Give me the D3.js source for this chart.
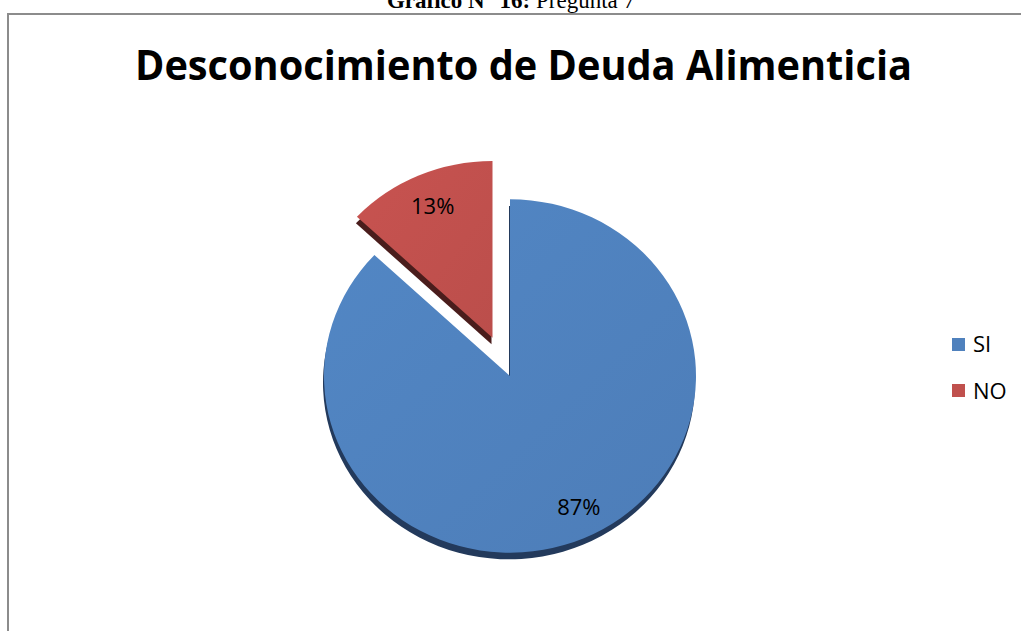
<!DOCTYPE html>
<html lang="es">
<head>
<meta charset="UTF-8">
<title>Desconocimiento de Deuda Alimenticia</title>
<script src="https://cdn.jsdelivr.net/npm/d3@7/dist/d3.min.js"></script>
<style>
  * { padding: 0; margin: 0; }
  body { background: #fff; overflow: hidden; }
</style>
</head>
<body>
<div id="grafico"></div>
<script>
// datos
var categorias = ["SI", "NO"];
var valores = [87, 13];
var colores = ["#4F81BD", "#C0504D"];
var coloresBorde = ["#233a5c", "#4a1d1c"];
var titulo = "Desconocimiento de Deuda Alimenticia";

var w = 1021, h = 631;
var cx = 510, cy = 376;
var radio = 186;
var achata = 0.95;
var explota = 44;

var svg = d3.select("#grafico").append("svg")
    .attr("width", w)
    .attr("height", h);

// gradientes suaves
var defs = svg.append("defs");
colores.forEach(function(c, i) {
    var g = defs.append("linearGradient")
        .attr("id", "grad" + i)
        .attr("x1", "0%").attr("y1", "0%")
        .attr("x2", "100%").attr("y2", "100%");
    g.append("stop").attr("offset", "0%").attr("stop-color", d3.color(c).brighter(0.12));
    g.append("stop").attr("offset", "100%").attr("stop-color", d3.color(c).darker(0.08));
});

// leyenda de arriba (cortada)
var cap = svg.append("text")
    .attr("x", 511)
    .attr("y", 8)
    .attr("text-anchor", "middle")
    .attr("font-family", "'Liberation Serif', 'Times New Roman', serif")
    .attr("font-size", "23px");
cap.append("tspan").attr("font-weight", "bold").text("Gráfico N° 16: ");
cap.append("tspan").text("Pregunta 7");

// marco
svg.append("rect")
    .attr("x", 8)
    .attr("y", 14)
    .attr("width", w)
    .attr("height", h)
    .attr("fill", "none")
    .attr("stroke", "#8c8c8c")
    .attr("stroke-width", 2);

// titulo
svg.append("text")
    .attr("x", 135)
    .attr("y", 80)
    .attr("font-family", "'Open Sans', 'Liberation Sans', sans-serif")
    .attr("font-weight", "bold")
    .attr("font-size", "42px")
    .attr("textLength", 777)
    .attr("lengthAdjust", "spacingAndGlyphs")
    .text(titulo);

var pie = d3.pie().sort(null).value(function(d) { return d; });
var arcos = pie(valores);
var arc = d3.arc().innerRadius(0).outerRadius(radio);

function desplaza(d, i) {
    if (i === 0) return [0, 0];
    var m = (d.startAngle + d.endAngle) / 2;
    return [Math.sin(m) * explota, -Math.cos(m) * explota];
}

var grupo = svg.append("g")
    .attr("transform", "translate(" + cx + "," + cy + ") scale(1," + achata + ")");

// grosor 3D
grupo.selectAll("path.borde")
    .data(arcos)
    .enter()
    .append("path")
    .attr("class", "borde")
    .attr("d", arc)
    .attr("fill", function(d, i) { return coloresBorde[i]; })
    .attr("transform", function(d, i) {
        var o = desplaza(d, i);
        return "translate(" + (o[0] - 1) + "," + (o[1] + 7) + ")";
    });

grupo.selectAll("path.cara")
    .data(arcos)
    .enter()
    .append("path")
    .attr("class", "cara")
    .attr("d", arc)
    .attr("fill", function(d, i) { return "url(#grad" + i + ")"; })
    .attr("transform", function(d, i) {
        var o = desplaza(d, i);
        return "translate(" + o[0] + "," + o[1] + ")";
    });

// etiquetas
var arcEtiqueta = d3.arc().innerRadius(radio * 0.81).outerRadius(radio * 0.81);
svg.selectAll("text.etiqueta")
    .data(arcos)
    .enter()
    .append("text")
    .attr("class", "etiqueta")
    .attr("text-anchor", "middle")
    .attr("font-family", "'Open Sans', 'Liberation Sans', sans-serif")
    .attr("font-size", "22px")
    .attr("fill", "#000")
    .attr("x", function(d, i) {
        var c = arcEtiqueta.centroid(d);
        return cx + c[0] + desplaza(d, i)[0] + (i === 0 ? 9 : 0);
    })
    .attr("y", function(d, i) {
        var c = arcEtiqueta.centroid(d);
        return cy + (c[1] + desplaza(d, i)[1]) * achata + 8;
    })
    .text(function(d) { return d.data + "%"; });

// leyenda
var leyenda = svg.selectAll("g.leyenda")
    .data(categorias)
    .enter()
    .append("g")
    .attr("class", "leyenda")
    .attr("transform", function(d, i) { return "translate(952," + (338 + i * 46) + ")"; });

leyenda.append("rect")
    .attr("width", 13)
    .attr("height", 13)
    .attr("fill", function(d, i) { return colores[i]; });

leyenda.append("text")
    .attr("x", 21)
    .attr("y", function(d, i) { return 14 + i; })
    .attr("font-family", "'Open Sans', 'Liberation Sans', sans-serif")
    .attr("font-size", "22px")
    .text(function(d) { return d; });
</script>
</body>
</html>
